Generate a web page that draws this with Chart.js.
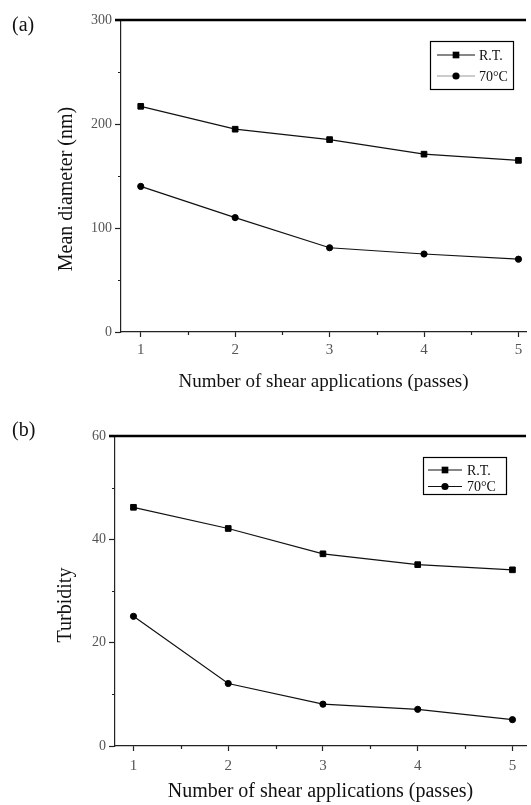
<!DOCTYPE html>
<html>
<head>
<meta charset="utf-8">
<script src="https://cdn.jsdelivr.net/npm/chart.js@4.4.1/dist/chart.umd.min.js"></script>
<style>
  html, body { margin: 0; padding: 0; background: #fff; }
  #page { position: relative; width: 531px; height: 805px; overflow: hidden; background: #fff; }
  .panel { position: absolute; left: 0; width: 531px; }
  .tag { position: absolute; left: 12px; font: 20px 'Liberation Serif', 'Times New Roman', serif; line-height: 20px; color: #111; }
</style>
</head>
<body>
<div id="page">
  <div class="panel" style="top:0;height:400px"><canvas id="diam" width="531" height="400"></canvas></div>
  <div class="panel" style="top:400px;height:405px"><canvas id="turb" width="531" height="405"></canvas></div>
  <div class="tag" style="top:14px">(a)</div>
  <div class="tag" style="top:419px">(b)</div>
</div>
<script>
// Passes through the shear device and the two processing temperatures
const passes = [1, 2, 3, 4, 5];
const seriesNames = ['R.T.', '70°C'];

// (a) mean droplet diameter, nm
const diameterRT = [217, 195, 185, 171, 165];
const diameter70 = [140, 110, 81, 75, 70];

// (b) turbidity
const turbidityRT = [46.2, 42.1, 37.2, 35.1, 34.1];
const turbidity70 = [25.1, 12.1, 8.1, 7.1, 5.1];

// axis ticks
const passTicks = [1, 2, 3, 4, 5];
const passMinorTicks = [1.5, 2.5, 3.5, 4.5];
const diameterTicks = [0, 100, 200, 300];
const diameterMinorTicks = [50, 150, 250];
const turbidityTicks = [0, 20, 40, 60];
const turbidityMinorTicks = [10, 30, 50];

const xTitle = 'Number of shear applications (passes)';
const FONT = "'Liberation Serif', 'Times New Roman', serif";
const INK = '#111';
const TICK_INK = '#555';

// Frame extras: heavy top rule, short minor ticks, rotated y caption and a
// line-through-marker key box.
const paperFrame = {
  id: 'paperFrame',
  afterDraw(chart, args, o) {
    const { ctx, chartArea: a, scales: { x, y } } = chart;
    ctx.save();

    ctx.strokeStyle = '#000';
    ctx.lineWidth = o.topWidth;
    ctx.beginPath();
    ctx.moveTo(a.left - o.majorLen, a.top);
    ctx.lineTo(a.right, a.top);
    ctx.stroke();

    ctx.strokeStyle = '#222';
    ctx.lineWidth = 1.2;
    ctx.beginPath();
    o.xMinor.forEach(v => {
      const px = Math.round(x.getPixelForValue(v)) + 0.5;
      ctx.moveTo(px, a.bottom);
      ctx.lineTo(px, a.bottom + o.minorLen);
    });
    o.yMinor.forEach(v => {
      const py = Math.round(y.getPixelForValue(v)) + 0.5;
      ctx.moveTo(a.left, py);
      ctx.lineTo(a.left - o.minorLen, py);
    });
    ctx.stroke();

    // y caption
    ctx.save();
    ctx.fillStyle = INK;
    ctx.font = `${o.titleSize}px ${FONT}`;
    ctx.translate(o.titleX, o.titleY);
    ctx.rotate(-Math.PI / 2);
    ctx.textAlign = 'center';
    ctx.textBaseline = 'alphabetic';
    ctx.fillText(o.yTitle, 0, 0);
    ctx.restore();

    // key box
    const k = o.key;
    ctx.strokeStyle = '#000';
    ctx.lineWidth = 1.2;
    ctx.strokeRect(k.box[0] + 0.5, k.box[1] + 0.5, k.box[2], k.box[3]);
    chart.data.datasets.forEach((ds, i) => {
      const ry = k.rows[i];
      ctx.strokeStyle = k.lineColors[i];
      ctx.lineWidth = 1.2;
      ctx.beginPath();
      ctx.moveTo(k.lineFrom, ry);
      ctx.lineTo(k.lineTo, ry);
      ctx.stroke();
      ctx.fillStyle = '#000';
      const r = ds.pointRadius;
      if (ds.pointStyle === 'rect') {
        const s = r * Math.SQRT2 + 1;
        ctx.fillRect(k.markX - s / 2, ry - s / 2, s, s);
      } else {
        ctx.beginPath();
        ctx.arc(k.markX, ry, r + 0.5, 0, Math.PI * 2);
        ctx.fill();
      }
      ctx.fillStyle = INK;
      ctx.font = `${k.fontSize}px ${FONT}`;
      ctx.textAlign = 'left';
      ctx.textBaseline = 'middle';
      ctx.fillText(ds.label, k.textX, ry + 1);
    });
    ctx.restore();
  }
};

function series(label, values, style, radius) {
  return {
    label,
    data: passes.map((p, i) => ({ x: p, y: values[i] })),
    borderColor: INK,
    borderWidth: 1.2,
    pointStyle: style,
    pointRadius: radius,
    pointBackgroundColor: '#000',
    pointBorderColor: '#000',
    pointBorderWidth: 1,
    tension: 0,
    fill: false
  };
}

function panel(canvasId, cfg) {
  return new Chart(document.getElementById(canvasId), {
    type: 'line',
    data: {
      datasets: [
        series(seriesNames[0], cfg.rt, 'rect', 4.0),
        series(seriesNames[1], cfg.hot, 'circle', 3.1)
      ]
    },
    options: {
      responsive: false,
      animation: false,
      events: [],
      layout: { padding: { top: cfg.padTop, left: 0, right: 0, bottom: 0 } },
      plugins: {
        legend: { display: false },
        tooltip: { enabled: false },
        paperFrame: {
          topWidth: 2.6, majorLen: 6, minorLen: 3,
          xMinor: passMinorTicks, yMinor: cfg.yMinor,
          yTitle: cfg.yTitle, titleSize: 20, titleX: cfg.titleX, titleY: cfg.titleY,
          key: cfg.key
        }
      },
      scales: {
        x: {
          type: 'linear',
          min: cfg.xMin, max: cfg.xMax,
          afterBuildTicks: s => { s.ticks = passTicks.map(v => ({ value: v })); },
          afterFit: s => { s.height = cfg.xHeight; },
          border: { color: '#222', width: 1.2 },
          grid: { drawOnChartArea: false, tickLength: 5, tickColor: '#222', tickWidth: 1.2 },
          ticks: { color: TICK_INK, padding: cfg.xTickPad, maxRotation: 0, font: { family: FONT, size: 15 } },
          title: {
            display: true, text: xTitle, color: INK,
            font: { family: FONT, size: cfg.xTitleSize },
            padding: { top: 0, bottom: cfg.xTitlePad }
          }
        },
        y: {
          type: 'linear',
          min: cfg.yTicks[0], max: cfg.yTicks[cfg.yTicks.length - 1],
          afterBuildTicks: s => { s.ticks = cfg.yTicks.map(v => ({ value: v })); },
          afterFit: s => { s.width = cfg.yWidth; },
          border: { color: '#222', width: 1.2 },
          grid: { drawOnChartArea: false, tickLength: 6, tickColor: '#222', tickWidth: 1.2 },
          ticks: { color: TICK_INK, padding: 3, font: { family: FONT, size: 14 } }
        }
      }
    },
    plugins: [paperFrame]
  });
}

panel('diam', {
  rt: diameterRT, hot: diameter70,
  yTicks: diameterTicks, yMinor: diameterMinorTicks,
  yTitle: 'Mean diameter (nm)', titleX: 71.5, titleY: 189,
  padTop: 20, yWidth: 121, xHeight: 68,
  xMin: 0.791, xMax: 5.08, xTickPad: 4, xTitleSize: 19, xTitlePad: 7,
  key: { box: [430, 41, 83, 48], rows: [55, 76], lineFrom: 437, lineTo: 475, markX: 456, textX: 479,
         fontSize: 14, lineColors: ['#111', '#999'] }
});

panel('turb', {
  rt: turbidityRT, hot: turbidity70,
  yTicks: turbidityTicks, yMinor: turbidityMinorTicks,
  yTitle: 'Turbidity', titleX: 71, titleY: 205,
  padTop: 36, yWidth: 115, xHeight: 59,
  xMin: 0.805, xMax: 5.143, xTickPad: 6, xTitleSize: 20, xTitlePad: 1,
  key: { box: [423, 57, 83, 37], rows: [70, 86.5], lineFrom: 428, lineTo: 462, markX: 445, textX: 467,
         fontSize: 14, lineColors: ['#111', '#111'] }
});
</script>
</body>
</html>
